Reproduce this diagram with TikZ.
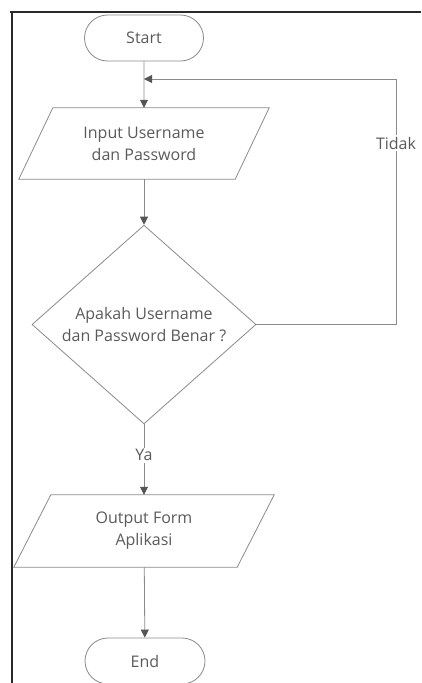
\documentclass[tikz,border=0pt]{standalone}
\usepackage{fontspec}
\setmainfont{Open Sans}
\usetikzlibrary{shapes.geometric,shapes.misc,arrows.meta,calc}
\definecolor{linegray}{HTML}{8A8A8A}
\definecolor{tipgray}{HTML}{555555}
\definecolor{txt}{HTML}{5A5A5A}
\definecolor{frame}{HTML}{2A2A2A}
\begin{document}
\begin{tikzpicture}[x=1pt,y=-1pt,
  txtfont/.style={text=txt, font=\fontsize{16}{22}\selectfont},
  term/.style={rounded rectangle, draw=linegray, line width=0.8pt, minimum width=119pt, minimum height=46pt, inner sep=0pt, txtfont},
  io/.style={rectangle, minimum height=71pt, inner sep=0pt, align=center, txtfont},
  para/.style={draw=linegray, line width=0.8pt},
  dec/.style={diamond, draw=linegray, line width=0.8pt, minimum width=224pt, minimum height=197pt, inner sep=0pt, align=center, txtfont},
  arr/.style={draw=linegray, line width=0.8pt, -{Triangle[width=8pt,length=8pt,color=tipgray]}},
  lab/.style={fill=white, inner sep=1.5pt, txtfont}]
\useasboundingbox (0,0) rectangle (421,683);
% frame
\draw[frame, line width=1.6pt] (10,12) -- (421,12);
\draw[frame, line width=1.6pt] (12,11) -- (12,683);
% nodes
\node[term] (start) at (144,38) {Start};
\node[io, minimum width=216pt] (in) at (144,143.5) {Input Username\\dan Password};
\draw[para] ($(in.north west)+(17,0)$) -- ($(in.north east)+(17,0)$) -- ($(in.south east)+(-17,0)$) -- ($(in.south west)+(-17,0)$) -- cycle;
\node[dec] (dec) at (144,324.5) {Apakah Username\\dan Password Benar ?};
\node[io, minimum width=223pt, minimum height=72pt] (out) at (144,531) {Output Form\\Aplikasi};
\draw[para] ($(out.north west)+(18.5,0)$) -- ($(out.north east)+(18.5,0)$) -- ($(out.south east)+(-18.5,0)$) -- ($(out.south west)+(-18.5,0)$) -- cycle;
\node[term, minimum width=120pt] (end) at (145,661) {End};
% connectors
\coordinate (merge) at (144,79);
\coordinate (rt) at (396,324.5);
\draw[arr] (start) -- (in);
\draw[arr] (in) -- (dec);
\draw[arr] (dec.east) -- (rt) |- (merge);
\node[lab] (tidak) at (396,143) {Tidak};
\draw[arr] (dec) -- node[lab, pos=0.44] (ya) {Ya} (out);
\draw[arr] (out) -- (end);
\end{tikzpicture}
\end{document}
